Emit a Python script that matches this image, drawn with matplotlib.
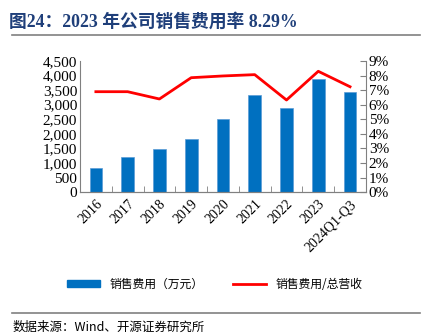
import matplotlib
matplotlib.use('Agg')
import matplotlib.pyplot as plt
import numpy as np
from matplotlib.lines import Line2D
from matplotlib.patches import Patch

plt.rcParams['font.family'] = ['Liberation Serif', 'Noto Sans CJK SC']

# 数据
years = ['2016', '2017', '2018', '2019', '2020', '2021', '2022', '2023', '2024Q1-Q3']
sales_cost = [814, 1192, 1477, 1820, 2497, 3332, 2896, 3882, 3425]   # 万元
cost_ratio = [6.89, 6.89, 6.39, 7.85, 7.97, 8.06, 6.32, 8.29, 7.23]  # %

blue = '#0070C0'
red = '#FF0000'
cjk = ['Noto Sans CJK SC', 'DejaVu Sans']

fig = plt.figure(figsize=(4.30, 3.33), dpi=100)
ax = fig.add_axes([0.186, 0.423, 0.665, 0.394])
ax2 = ax.twinx()

x = np.arange(len(years))
ax.bar(x, sales_cost, width=0.4, color=blue, edgecolor='#5B9BD5', linewidth=0.5, zorder=2)
ax2.plot(x, cost_ratio, color=red, linewidth=2, zorder=3)

ax.set_xlim(-0.5, len(years) - 0.5)
ax.set_ylim(0, 4500)
ax.set_yticks(np.arange(0, 4501, 500))
ax.set_yticklabels([f'{v:,}' for v in range(0, 4501, 500)], fontsize=11)
ax2.set_ylim(0, 9)
ax2.set_yticks(range(0, 10))
ax2.set_yticklabels([f'{v}%' for v in range(0, 10)], fontsize=11)

ax.set_xticks(x)
ax.set_xticklabels(years, rotation=45, ha='right', rotation_mode='anchor', fontsize=10)
ax.tick_params(axis='x', length=0, pad=4)
ax.set_xticks(np.arange(-0.5, len(years), 1), minor=True)
ax.tick_params(axis='x', which='minor', direction='in', length=4, color='#808080')
ax.tick_params(axis='y', direction='in', length=0, pad=2)
ax2.tick_params(axis='y', direction='in', length=4, color='#808080', pad=2)

for a in (ax, ax2):
    a.spines['top'].set_visible(False)
    for s in ('left', 'right', 'bottom'):
        a.spines[s].set_color('#808080')
ax2.spines['left'].set_visible(False)
ax.spines['right'].set_visible(False)

# 标题和分隔线
fig.text(0.02, 0.934, '图24：2023 年公司销售费用率 8.29%', fontsize=12.8, fontweight='bold',
         color='#1F3F7A', va='center', family=['Liberation Serif', 'Noto Sans CJK SC'])
fig.add_artist(Line2D([0.028, 0.977], [0.895, 0.895], color='#808080', linewidth=1.2))
fig.add_artist(Line2D([0.028, 0.977], [0.06, 0.06], color='#808080', linewidth=1.2))
fig.text(0.028, 0.018, '数据来源：Wind、开源证券研究所', fontsize=9, va='center',
         family=['Noto Sans CJK SC', 'Liberation Serif'])

handles = [Patch(color=blue), Line2D([0], [0], color=red, linewidth=2)]
fig.legend(handles, ['销售费用（万元）', '销售费用/总营收'], loc='center', ncol=2,
           bbox_to_anchor=(0.5, 0.147), frameon=False, handlelength=2.8, handleheight=0.6,
           columnspacing=2.5, prop={'family': cjk, 'size': 8.5})

fig.savefig('out.png', dpi=100)
